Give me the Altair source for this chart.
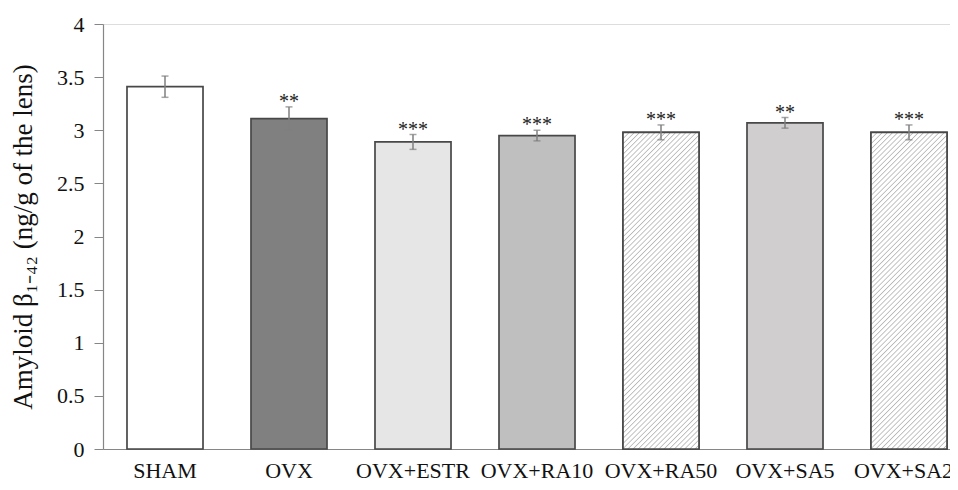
import altair as alt
import pandas as pd

# ---- data ----
groups = ["SHAM", "OVX", "OVX+ESTR", "OVX+RA10", "OVX+RA50", "OVX+SA5", "OVX+SA25"]
means = [3.41, 3.11, 2.89, 2.95, 2.98, 3.07, 2.98]
errors = [0.10, 0.11, 0.07, 0.05, 0.07, 0.05, 0.07]
stars = ["", "**", "***", "***", "***", "**", "***"]
hatched = ["OVX+RA50", "OVX+SA25"]

# ---- style ----
fills = ["#ffffff", "#808080", "#e7e6e6", "#bfbfbf", "#ffffff", "#d0cece", "#ffffff"]
FONT = "Liberation Serif"
W_VIEW, H_VIEW = 847, 425
X_RANGE = 868
Y_MAX = 4
PAD_INNER = 0.387

df = pd.DataFrame({"group": groups, "mean": means, "err": errors, "stars": stars})
df["lo"] = df["mean"] - df["err"]
df["hi"] = df["mean"] + df["err"]

xscale = alt.Scale(domain=groups, range=[0, X_RANGE], paddingInner=PAD_INNER,
                   paddingOuter=PAD_INNER / 2)
yscale = alt.Scale(domain=[0, Y_MAX], nice=False)

x = alt.X("group:N", scale=xscale, sort=groups, title=None,
          axis=alt.Axis(labelAngle=0, ticks=False, labelPadding=11, labelFont=FONT,
                        labelFontSize=22, labelColor="#111111", domainColor="#868686",
                        domainWidth=1.2, grid=False, labelOverlap=False))
y_axis = alt.Axis(values=[i * 0.5 for i in range(9)], format="~g", grid=False,
                  tickSize=9, tickColor="#868686", domainColor="#868686", domainWidth=1.2,
                  labelPadding=10, labelFont=FONT, labelFontSize=22, labelColor="#111111",
                  title="Amyloid β₁₋₄₂ (ng/g of the lens)", titleFont=FONT,
                  titleFontSize=27, titleFontWeight="normal", titleColor="#111111",
                  titleX=-80, titleY=H_VIEW / 2, titleBaseline="middle",
                  titleAlign="center", titleAngle=-90)

base = alt.Chart(df)

bars = base.mark_bar(stroke="#484848", strokeWidth=1.7).encode(
    x=x,
    y=alt.Y("mean:Q", scale=yscale, axis=y_axis),
    fill=alt.Fill("group:N", scale=alt.Scale(domain=groups, range=fills), legend=None),
)

# hatch layers (diagonal stripes via a repeating linear gradient)
step = X_RANGE / len(groups)
bw = step * (1 - PAD_INNER)
hatch_layers = []
for g in hatched:
    val = means[groups.index(g)]
    bh = val * H_VIEW / Y_MAX
    s = (bw + bh) / (bw ** 2 + bh ** 2)
    dx, dy = bw * s, bh * s
    period = 5.2
    n = int(round((bw + bh) / period))
    stops = []
    for k in range(n):
        stops.append({"offset": k / n, "color": "#ffffff"})
        stops.append({"offset": (k + 0.22) / n, "color": "#b8b8b8"})
        stops.append({"offset": (k + 0.46) / n, "color": "#ffffff"})
    stops.append({"offset": 1.0, "color": "#ffffff"})
    grad = {"gradient": "linear", "x1": 0, "y1": 0, "x2": dx, "y2": dy, "stops": stops}
    hatch_layers.append(
        base.transform_filter(alt.datum.group == g)
        .mark_bar(fill=grad, stroke="#484848", strokeWidth=1.7)
        .encode(x=x, y=alt.Y("mean:Q", scale=yscale))
    )

err_rule = base.mark_rule(color="#7f7f7f", strokeWidth=1.5).encode(
    x=x, y=alt.Y("lo:Q", scale=yscale), y2="hi:Q")
cap_hi = base.mark_tick(color="#7f7f7f", thickness=1.5, size=7, orient="horizontal").encode(
    x=x, y=alt.Y("hi:Q", scale=yscale))
cap_lo = base.mark_tick(color="#7f7f7f", thickness=1.5, size=7, orient="horizontal").encode(
    x=x, y=alt.Y("lo:Q", scale=yscale))
txt = base.mark_text(font=FONT, fontSize=20, color="#222222", baseline="alphabetic",
                     dy=1).encode(x=x, y=alt.Y("hi:Q", scale=yscale), text="stars:N")

chart = alt.layer(bars, *hatch_layers, err_rule, cap_hi, cap_lo, txt).properties(
    width=W_VIEW, height=H_VIEW,
    autosize=alt.AutoSizeParams(type="none"),
    padding={"left": 95, "top": 16, "right": 0, "bottom": 32},
).configure_view(stroke=None).configure(background="#ffffff")

chart.save("out.html", embed_options={"renderer": "svg", "actions": False})
